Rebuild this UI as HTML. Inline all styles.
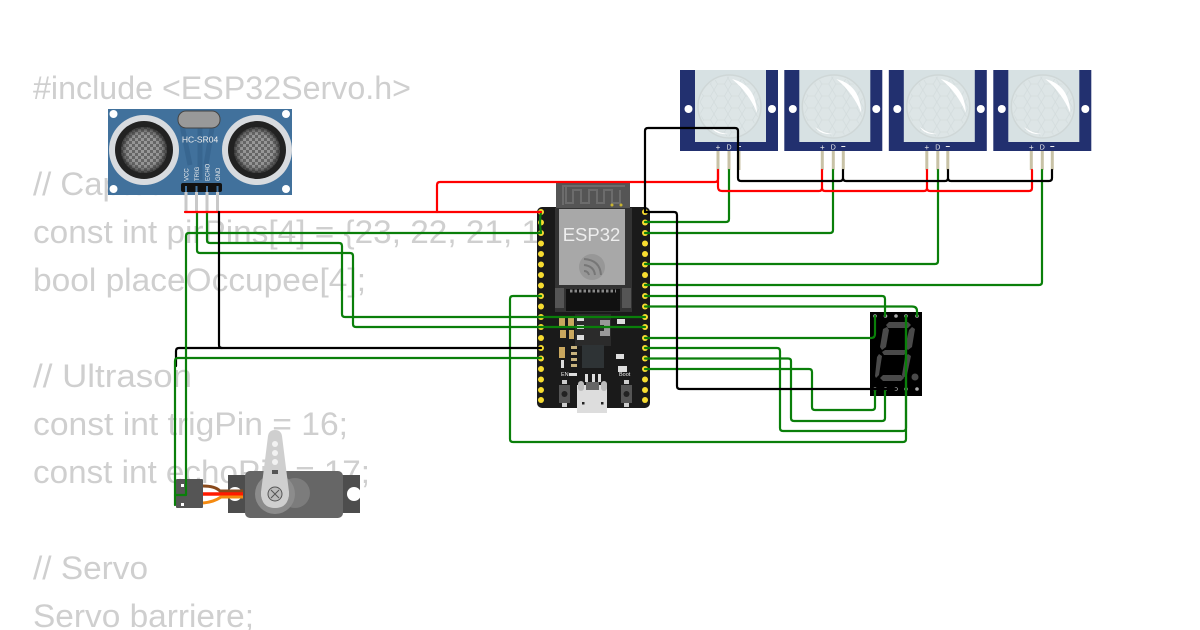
<!DOCTYPE html>
<html><head><meta charset="utf-8"><style>
html,body{margin:0;padding:0;background:#fff;width:1200px;height:630px;overflow:hidden}
svg{display:block}
.c{font-family:"Liberation Sans",sans-serif;font-size:32px;fill:#cfcfcf}
.w{fill:none;stroke-width:2.2;stroke-linejoin:round;stroke-linecap:round}
.g{stroke:#0a7f0a}.r{stroke:#f00}.k{stroke:#000}
.y{fill:#f7dc30}
.t{font-family:"Liberation Sans",sans-serif;fill:#eee}
</style></head><body>
<svg width="1200" height="630" viewBox="0 0 1200 630" xmlns="http://www.w3.org/2000/svg">
<defs>
<pattern id="ck" width="6" height="6" patternUnits="userSpaceOnUse"><rect width="6" height="6" fill="#9a9a9a"/><rect width="3" height="3" fill="#666"/><rect x="3" y="3" width="3" height="3" fill="#666"/></pattern>
<radialGradient id="fade"><stop offset="0" stop-color="#777" stop-opacity="0"/><stop offset="0.7" stop-color="#555" stop-opacity="0.1"/><stop offset="1" stop-color="#222" stop-opacity="0.8"/></radialGradient>
<pattern id="hex" width="14" height="12" patternUnits="userSpaceOnUse"><path d="M0 6 L3.500 0 H10.500 L14 6 L10.500 12 H3.500Z" fill="none" stroke="#d3dcdd" stroke-width="0.8"/></pattern>
<g id="pir">
<rect x="680" y="70" width="98" height="81" fill="#22306f"/>
<rect x="695" y="70" width="71" height="72" fill="#d7e1e3"/>
<circle cx="729.500" cy="106.500" r="31.500" fill="#dde5e6" stroke="#cfd7d7" stroke-width="1.500"/>
<circle cx="729.500" cy="106.500" r="30" fill="url(#hex)"/>
<path d="M733 78 Q757 84 758 112 Q750 92 733 78Z" fill="#fff" transform="translate(-1,1) scale(1)"/>
<path d="M711 127 Q718 133 728 134 Q716 135 711 127Z" fill="#fff"/>
<circle cx="688.500" cy="109" r="4" fill="#fff"/><circle cx="772" cy="109" r="4" fill="#fff"/>
<rect x="716.500" y="151" width="3" height="19" fill="#c8c2a6"/>
<rect x="727.500" y="151" width="3" height="19" fill="#c8c2a6"/>
<rect x="737.500" y="151" width="3" height="19" fill="#c8c2a6"/>
<text x="718" y="150" font-size="8" text-anchor="middle" class="t">+</text>
<text x="729" y="149.500" font-size="7" text-anchor="middle" class="t">D</text>
<rect x="737" y="146" width="4" height="1" fill="#eee"/>
</g>
</defs>
<rect width="1200" height="630" fill="#fff"/>
<text class="c" x="33" y="99" textLength="378" lengthAdjust="spacingAndGlyphs">#include &lt;ESP32Servo.h&gt;</text>
<text class="c" x="33" y="195" textLength="225" lengthAdjust="spacingAndGlyphs">// Capteurs PIR</text>
<text class="c" x="33" y="243" textLength="546" lengthAdjust="spacingAndGlyphs">const int pirPins[4] = {23, 22, 21, 19};</text>
<text class="c" x="33" y="291" textLength="333" lengthAdjust="spacingAndGlyphs">bool placeOccupee[4];</text>
<text class="c" x="33" y="387" textLength="159" lengthAdjust="spacingAndGlyphs">// Ultrason</text>
<text class="c" x="33" y="435" textLength="315" lengthAdjust="spacingAndGlyphs">const int trigPin = 16;</text>
<text class="c" x="33" y="483" textLength="337" lengthAdjust="spacingAndGlyphs">const int echoPin = 17;</text>
<text class="c" x="33" y="579" textLength="115" lengthAdjust="spacingAndGlyphs">// Servo</text>
<text class="c" x="33" y="627" textLength="221" lengthAdjust="spacingAndGlyphs">Servo barriere;</text>

<!-- HC-SR04 -->
<rect x="108" y="109" width="184" height="86" fill="#41719c"/>
<path d="M182 125 L190 165 M200 128 L200 180 M212 128 L206 165" stroke="#386690" stroke-width="5" fill="none"/>
<rect x="178" y="111" width="42" height="17" rx="8" fill="#999" stroke="#444" stroke-width="1"/>
<circle cx="144" cy="150" r="35" fill="#d8dbdf"/><circle cx="144" cy="150" r="29" fill="#222"/><circle cx="144" cy="150" r="23" fill="url(#ck)"/><circle cx="144" cy="150" r="23" fill="url(#fade)"/>
<circle cx="257" cy="150" r="35" fill="#d8dbdf"/><circle cx="257" cy="150" r="29" fill="#222"/><circle cx="257" cy="150" r="23" fill="url(#ck)"/><circle cx="257" cy="150" r="23" fill="url(#fade)"/>
<circle cx="113.500" cy="114" r="4" fill="#fff"/><circle cx="286" cy="114" r="4" fill="#fff"/><circle cx="113.500" cy="189" r="4" fill="#fff"/><circle cx="286" cy="189" r="4" fill="#fff"/>
<text x="200" y="142.500" font-size="8.500" text-anchor="middle" class="t">HC-SR04</text>
<g font-size="6" class="t">
<text transform="translate(188.500,181) rotate(-90)">VCC</text>
<text transform="translate(199,181) rotate(-90)">TRIG</text>
<text transform="translate(209.500,181) rotate(-90)">ECHO</text>
<text transform="translate(220,181) rotate(-90)">GND</text>
</g>
<rect x="181" y="183" width="41" height="9" rx="2" fill="#111"/>
<rect x="184.500" y="192" width="3" height="20" fill="#c9c9c9"/><rect x="195" y="192" width="3" height="20" fill="#c9c9c9"/><rect x="205.500" y="192" width="3" height="20" fill="#c9c9c9"/><rect x="216" y="192" width="3" height="20" fill="#c9c9c9"/>
<rect x="185" y="186" width="2" height="6" fill="#41719c"/><rect x="195.500" y="186" width="2" height="6" fill="#41719c"/><rect x="206" y="186" width="2" height="6" fill="#41719c"/><rect x="216.500" y="186" width="2" height="6" fill="#41719c"/>

<!-- PIRs -->
<use href="#pir"/><use href="#pir" x="104.300"/><use href="#pir" x="208.800"/><use href="#pir" x="313.300"/>

<!-- ESP32 -->
<rect x="537" y="207" width="113" height="201" rx="5" fill="#1a1a1a"/>
<rect x="556" y="181" width="74" height="30" fill="#555"/>
<path d="M563 205 V186 H625 M566 186 V203 H573 V190 H581 V203 H589 V190 H597 V203 H604 V190 H612 V203 H620 V190" fill="none" stroke="#6c6c6c" stroke-width="2"/>
<circle cx="612" cy="205" r="1.500" fill="#c9b530"/><circle cx="621" cy="205" r="1.500" fill="#c9b530"/>
<rect x="555" y="208" width="77" height="104" fill="#333"/>
<rect x="559" y="209" width="66" height="76" fill="#a8a8a8"/>
<text x="591.500" y="241" font-size="18.500" text-anchor="middle" class="t" fill="#f0f0f0">ESP32</text>
<circle cx="592" cy="267" r="13" fill="#979797"/>
<path d="M584 259 Q600 260 601 275 M584 265 Q594 266 595 275 M584 271 Q588 271 589 275" fill="none" stroke="#777" stroke-width="2"/>
<rect x="566" y="289" width="54" height="22" fill="#111"/>
<path d="M570 291 H616" stroke="#888" stroke-width="3" stroke-dasharray="2.500 2"/>
<rect x="555" y="288" width="9" height="20" fill="#555"/><rect x="622" y="288" width="9" height="20" fill="#555"/>
<rect x="575" y="314" width="36" height="32" fill="#2b2b2b"/>
<g fill="#c9a75e"><rect x="559" y="317" width="6" height="9"/><rect x="568" y="317" width="6" height="9"/><rect x="560" y="330" width="6" height="8"/><rect x="569" y="330" width="5" height="9"/><rect x="559" y="347" width="6" height="11"/></g>
<g fill="#ddd"><rect x="577" y="317" width="7" height="4"/><rect x="577" y="325" width="7" height="4"/><rect x="577" y="335" width="7" height="5"/><rect x="617" y="319" width="8" height="5"/><rect x="616" y="354" width="8" height="5"/><rect x="618" y="366" width="9" height="6"/></g>
<path d="M600 320 H610 V336 H600 V331 H604 V325 H600Z" fill="#999"/>
<rect x="582" y="345" width="22" height="23" fill="#2e3335"/>
<g fill="#c8b37e"><rect x="571" y="346" width="6" height="3"/><rect x="571" y="352" width="6" height="3"/><rect x="571" y="358" width="6" height="3"/><rect x="571" y="364" width="6" height="3"/></g>
<g fill="#ddd"><rect x="561" y="360" width="3" height="8"/><rect x="569" y="373" width="8" height="3"/><rect x="585" y="374" width="3" height="8"/><rect x="592" y="374" width="3" height="8"/><rect x="598" y="374" width="3" height="8"/></g>
<rect x="559" y="385" width="11" height="18" fill="#555"/><circle cx="564.500" cy="394" r="3" fill="#222"/>
<rect x="621" y="385" width="11" height="18" fill="#555"/><circle cx="626.500" cy="394" r="3" fill="#222"/>
<rect x="562" y="380" width="5" height="4" fill="#ccc"/><rect x="624" y="380" width="5" height="4" fill="#ccc"/>
<rect x="562" y="403" width="5" height="4" fill="#ccc"/><rect x="624" y="403" width="5" height="4" fill="#ccc"/>
<text x="561" y="376" font-size="5.500" class="t">EN</text><text x="619" y="376" font-size="5.500" class="t">Boot</text>
<path d="M577 385 H607 V413 H577Z" fill="#ddd"/><rect x="578" y="381" width="6" height="10" rx="3" fill="#bbb"/><rect x="601" y="381" width="6" height="10" rx="3" fill="#bbb"/>
<rect x="586" y="382" width="13" height="8" fill="#666"/>
<rect x="582" y="402" width="2.500" height="2.500" fill="#222"/><rect x="601" y="402" width="2.500" height="2.500" fill="#222"/>
<g class="y">
<circle cx="541" cy="212" r="3"/><circle cx="541" cy="222.500" r="3"/><circle cx="541" cy="233" r="3"/><circle cx="541" cy="243.500" r="3"/><circle cx="541" cy="254" r="3"/><circle cx="541" cy="264.500" r="3"/><circle cx="541" cy="275" r="3"/><circle cx="541" cy="285.500" r="3"/><circle cx="541" cy="296" r="3"/><circle cx="541" cy="306.500" r="3"/><circle cx="541" cy="317" r="3"/><circle cx="541" cy="327" r="3"/><circle cx="541" cy="338" r="3"/><circle cx="541" cy="348" r="3"/><circle cx="541" cy="358.500" r="3"/><circle cx="541" cy="369" r="3"/><circle cx="541" cy="379.500" r="3"/><circle cx="541" cy="390" r="3"/><circle cx="541" cy="400" r="3"/>
<circle cx="645" cy="212" r="3"/><circle cx="645" cy="222.500" r="3"/><circle cx="645" cy="233" r="3"/><circle cx="645" cy="243.500" r="3"/><circle cx="645" cy="254" r="3"/><circle cx="645" cy="264.500" r="3"/><circle cx="645" cy="275" r="3"/><circle cx="645" cy="285.500" r="3"/><circle cx="645" cy="296" r="3"/><circle cx="645" cy="306.500" r="3"/><circle cx="645" cy="317" r="3"/><circle cx="645" cy="327" r="3"/><circle cx="645" cy="338" r="3"/><circle cx="645" cy="348" r="3"/><circle cx="645" cy="358.500" r="3"/><circle cx="645" cy="369" r="3"/><circle cx="645" cy="379.500" r="3"/><circle cx="645" cy="390" r="3"/><circle cx="645" cy="400" r="3"/>
</g>

<!-- 7 segment -->
<rect x="870" y="312" width="52" height="84" fill="#000"/>
<g fill="#4a4a4a">
<path d="M889 322 H908 L911 325 L908 328 H888 L886 325Z"/>
<path d="M883 329 L887 327 L889 330 L886 347 L882 350 L880 347Z"/>
<path d="M912 327 L915 329 L912 347 L908 350 L905 347 L909 330Z"/>
<path d="M885 350 H905 L907 352 L904 355 H884 L882 352Z"/>
<path d="M879 354 L882 356 L879 375 L876 378 L875 376 L877 357Z"/>
<path d="M908 354 L911 356 L907 375 L903 378 L902 375 L905 357Z"/>
<path d="M883 375 H901 L904 378 L901 381 H883 L880 378Z"/>
<circle cx="915" cy="377" r="3.500"/>
</g>
<g fill="#aaa"><circle cx="875" cy="316" r="1.800"/><circle cx="885.500" cy="316" r="1.800"/><circle cx="896" cy="316" r="1.800"/><circle cx="906" cy="316" r="1.800"/><circle cx="917" cy="316" r="1.800"/><circle cx="875" cy="389" r="1.800"/><circle cx="885.500" cy="389" r="1.800"/><circle cx="896" cy="389" r="1.800"/><circle cx="906" cy="389" r="1.800"/><circle cx="917" cy="389" r="1.800"/></g>

<!-- Servo -->
<rect x="228" y="475" width="132" height="38" fill="#4d4d4d"/>
<rect x="245" y="471" width="98" height="47" rx="5" fill="#666"/>
<circle cx="235" cy="494" r="7" fill="#fff"/><circle cx="354" cy="494" r="7" fill="#fff"/>
<path d="M203 486 Q215 486 220 491 H243" stroke="#8a4a1c" stroke-width="3" fill="none"/>
<path d="M203 494 H243" stroke="#ff1a00" stroke-width="3.500" fill="none"/>
<path d="M203 503 Q214 502 221 497 H243" stroke="#f58a10" stroke-width="3" fill="none"/>
<rect x="176" y="479" width="27" height="29" rx="1" fill="#555"/>
<rect x="181" y="484" width="3" height="3" fill="#fff"/><rect x="181" y="503" width="3" height="3" fill="#fff"/>
<circle cx="295" cy="493" r="15" fill="#7c7c7c"/>
<circle cx="275" cy="494" r="20" fill="#8c8c8c"/>
<path d="M268 436 Q269 430 275 430 Q281 430 282 436 L289 492 Q289 508 275 508 Q261 508 261 492Z" fill="#cfcfcf"/>
<circle cx="275" cy="494" r="14" fill="#cfcfcf"/>
<circle cx="275" cy="494" r="7" fill="#bbb" stroke="#555" stroke-width="1"/>
<path d="M271 490 L279 498 M279 490 L271 498" stroke="#555" stroke-width="1"/>
<g fill="#f2f2f2"><circle cx="275" cy="444" r="3"/><circle cx="275" cy="453" r="3"/><circle cx="275" cy="462" r="3"/></g>
<rect x="272" y="470" width="6" height="4" fill="#555"/>

<!-- Wires -->
<g class="w k">
<path d="M176 366 V351 Q176 348 179 348 H222"/>
</g>
<g class="w g">
<path d="M207 212 V240 Q207 243 210 243 H339 Q342 243 342 246 V314 Q342 317 345 317 H645"/>
<path d="M197 212 V250 Q197 253 200 253 H350 Q353 253 353 256 V324 Q353 327 356 327 H645"/>
<path d="M175 505 V361 Q175 358 178 358 H541"/>
<path d="M175 495 H186 V236 Q186 233 189 233 H541 Q539 222 541 212"/>
<path d="M729 170 V219 Q729 222 726 222 H645"/>
<path d="M833 170 V230 Q833 233 830 233 H645"/>
<path d="M938 170 V261 Q938 264 935 264 H645"/>
<path d="M1042 170 V282 Q1042 285 1039 285 H645"/>
<path d="M645 296 H882 Q885 296 885 299 V316"/>
<path d="M645 306.500 H912 Q917 306.500 917 311 V316"/>
<path d="M645 338 H871 Q875 338 875 334 V316"/>
<path d="M645 348 H777 Q780 348 780 351 V428 Q780 431 783 431 H903 Q906 431 906 428 V316"/>
<path d="M645 358.500 H788 Q791 358.500 791 361 V418 Q791 421 794 421 H882 Q885 421 885 418 V389"/>
<path d="M645 369 H809 Q812 369 812 372 V407 Q812 410 815 410 H872 Q875 410 875 407 V389"/>
<path d="M541 296 H513 Q510 296 510 299 V439 Q510 442 513 442 H903 Q906 442 906 439 V316"/>
</g>
<g class="w r">
<path d="M185 212 H541"/>
<path d="M437 212 V185 Q437 182 440 182 H715 Q718 182 718 179 V170"/>
<path d="M718 170 V187 Q718 191 722 191 H819 Q822 191 822 188 V170"/>
<path d="M822 188 Q822 191 825 191 H924 Q927 191 927 188 V170"/>
<path d="M927 188 Q927 191 930 191 H1029 Q1032 191 1032 188 V170"/>
</g>
<g class="w k">
<path d="M219 212 V345 Q219 348 222 348 H541"/>
<path d="M645 212 V131 Q645 128 648 128 H735 Q738 128 738 131 V178 Q738 181 741 181 H840 Q843 181 843 178 V170"/>
<path d="M843 178 Q843 181 846 181 H945 Q948 181 948 178 V170"/>
<path d="M948 178 Q948 181 951 181 H1049 Q1052 181 1052 178 V170"/>
<path d="M645 212 H674 Q677 212 677 215 V386 Q677 389 680 389 H896"/>
</g>
</svg>
</body></html>
